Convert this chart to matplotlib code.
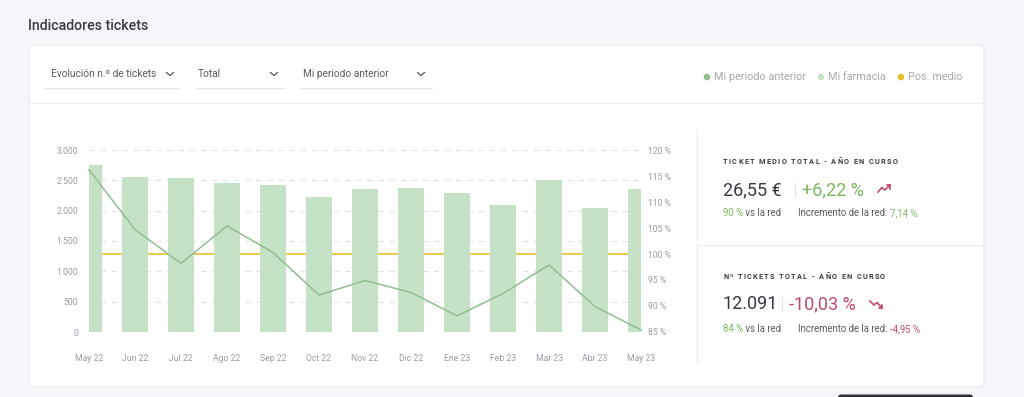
import matplotlib
matplotlib.use('Agg')
import matplotlib.pyplot as plt
from matplotlib.patches import FancyBboxPatch, Circle

# data
months = ['May 22', 'Jun 22', 'Jul 22', 'Ago 22', 'Sep 22', 'Oct 22', 'Nov 22',
          'Dic 22', 'Ene 23', 'Feb 23', 'Mar 23', 'Abr 23', 'May 23']
tickets = [2750, 2550, 2535, 2455, 2425, 2230, 2350, 2370, 2290, 2095, 2510, 2045, 2350]
prev_pct = [116.2, 104.7, 98.2, 105.4, 100.3, 92.1, 94.9, 92.6, 88.1, 92.4, 97.9, 89.9, 85.4]
avg_pos = 100
left_ticks = [0, 500, 1000, 1500, 2000, 2500, 3000]
right_ticks = [85, 90, 95, 100, 105, 110, 115, 120]
legend_labels = ['Mi periodo anterior', 'Mi farmacia', 'Pos. medio']
dropdowns = ['Evolución n.º de tickets', 'Total', 'Mi periodo anterior']

# colours
BG = '#f4f6f9'
BAR = '#c6e2c6'
LINE = '#8fbf8f'
YELLOW = '#e6bf2a'
GREEN = '#7cb85f'
RED = '#c34a6c'
DARK = '#3a3a44'
MID = '#5a5a64'
LIGHT = '#9a9ca6'
SEP = '#eceef1'

plt.rcParams['font.family'] = ['Roboto', 'DejaVu Sans']

W, H = 1024, 397
fig = plt.figure(figsize=(W / 100, H / 100), dpi=100)
fig.patch.set_facecolor(BG)

# background axes in pixel coordinates
bg = fig.add_axes([0, 0, 1, 1])
bg.set_xlim(0, W)
bg.set_ylim(H, 0)
bg.axis('off')
bg.patch.set_alpha(0)

renderer = fig.canvas.get_renderer()


def seq_text(x, y, parts, **kw):
    """draw consecutive coloured pieces of text on one line"""
    for s, c in parts:
        t = bg.text(x, y, s, color=c, va='center', ha='left', **kw)
        x += t.get_window_extent(renderer).width
    return x


def spaced_text(x, y, s, spacing, **kw):
    """letter spaced text, one glyph at a time"""
    for ch in s:
        t = bg.text(x, y, ch, va='center', ha='left', **kw)
        x += t.get_window_extent(renderer).width + spacing
    return x


bg.text(28, 26, 'Indicadores tickets', fontsize=10.2, fontweight='medium',
        color=DARK, va='center', ha='left')

# card
bg.add_patch(FancyBboxPatch((29, 45), 955, 342, boxstyle='round,pad=0,rounding_size=4',
                            fc='white', ec='#e6e8ec', lw=0.8))
bg.plot([29, 984], [103, 103], color=SEP, lw=0.9)

# dropdowns
dd_x = [51, 198, 303]
dd_chev = [170, 274, 421]
dd_line = [(44, 178), (196, 284), (301, 432)]
for label, x, cx, (l0, l1) in zip(dropdowns, dd_x, dd_chev, dd_line):
    bg.text(x, 74, label, fontsize=7.3, color=MID, va='center', ha='left')
    bg.plot([cx - 3.5, cx, cx + 3.5], [72.5, 75.5, 72.5], color=MID, lw=0.9)
    bg.plot([l0, l1], [87.5, 87.5], color='#e4e6ea', lw=0.9)

# legend
leg_dot_x = [707, 821, 901]
leg_colors = [LINE, BAR, YELLOW]
for label, x, c in zip(legend_labels, leg_dot_x, leg_colors):
    bg.add_patch(Circle((x, 77), 2.6, color=c))
    bg.text(x + 7, 77, label, fontsize=7.8, color='#a6a8ae', va='center', ha='left')

# right panel separators
bg.plot([697, 697], [130, 362], color=SEP, lw=0.9)
bg.plot([697, 984], [245, 245], color=SEP, lw=0.9)

# KPI blocks
spaced_text(723, 162, 'TICKET MEDIO TOTAL - AÑO EN CURSO', 1.3,
            fontsize=5.3, fontweight='bold', color=DARK)
bg.text(723, 190, '26,55 €', fontsize=13, color=DARK, va='center', ha='left')
bg.plot([795, 795], [183, 197], color='#e2e2e2', lw=0.8)
bg.text(802, 190, '+6,22 %', fontsize=13, color=GREEN, va='center', ha='left')
bg.plot([878, 882, 885, 890], [192, 187.5, 190, 185], color=RED, lw=1.2)
bg.plot([886.5, 890, 890], [185, 185, 188.5], color=RED, lw=1.2)
seq_text(723, 213, [('90 %', GREEN), (' vs la red', MID)], fontsize=6.9)
seq_text(798, 213, [('Incremento de la red: ', MID), ('7,14 %', GREEN)], fontsize=6.9)

spaced_text(723, 277, 'Nº TICKETS TOTAL - AÑO EN CURSO', 1.3,
            fontsize=5.3, fontweight='bold', color=DARK)
bg.text(723, 304, '12.091', fontsize=13, color=DARK, va='center', ha='left')
bg.plot([782, 782], [297, 311], color='#e2e2e2', lw=0.8)
bg.text(789, 304, '-10,03 %', fontsize=13, color=RED, va='center', ha='left')
bg.plot([870, 874, 877, 882], [301, 305, 302.5, 308], color=RED, lw=1.2)
bg.plot([878.5, 882, 882], [308, 308, 304.5], color=RED, lw=1.2)
seq_text(723, 329, [('84 %', GREEN), (' vs la red', MID)], fontsize=6.9)
seq_text(798, 329, [('Incremento de la red: ', MID), ('-4,95 %', RED)], fontsize=6.9)

# tooltip stub at the bottom edge
bg.add_patch(FancyBboxPatch((838, 394.5), 135, 6, boxstyle='round,pad=0,rounding_size=3',
                            fc='#2f2f35', ec='none'))

# chart
x0, x1, y_top, y_bot = 89, 641, 150, 332
ax = fig.add_axes([x0 / W, (H - y_bot) / H, (x1 - x0) / W, (y_bot - y_top) / H])
ax.patch.set_alpha(0)
xs = list(range(len(months)))
ax.bar(xs, tickets, width=0.56, color=BAR, zorder=2)
ax.set_xlim(0, len(months) - 1)
ax.set_ylim(0, 3000)
ax.set_yticks(left_ticks)
ax.set_yticklabels([f'{v:,}'.replace(',', '.') for v in left_ticks])
ax.set_xticks(xs)
ax.set_xticklabels(months)
for v in left_ticks[1:]:
    ax.axhline(v, color='#e2e3e6', lw=0.8, ls=(0, (5, 5)), zorder=0)
for s in ax.spines.values():
    s.set_visible(False)
ax.tick_params(axis='y', length=0, pad=8, labelsize=6.2, labelcolor=LIGHT)
ax.tick_params(axis='x', length=0, pad=16, labelsize=6.2, labelcolor=LIGHT)

ax2 = ax.twinx()
ax2.set_ylim(85, 120)
ax2.set_yticks(right_ticks)
ax2.set_yticklabels([f'{v} %' for v in right_ticks])
for s in ax2.spines.values():
    s.set_visible(False)
ax2.tick_params(axis='y', length=0, pad=5, labelsize=6.2, labelcolor=LIGHT)

# average position drawn behind the bars, in right axis units
ax.plot([0, len(months) - 1], [avg_pos, avg_pos], color=YELLOW, lw=1.2,
        transform=ax2.transData, zorder=1)
ax2.plot(xs, prev_pct, color=LINE, lw=1.1, clip_on=False)

fig.savefig('out.png', dpi=100, facecolor=BG)
